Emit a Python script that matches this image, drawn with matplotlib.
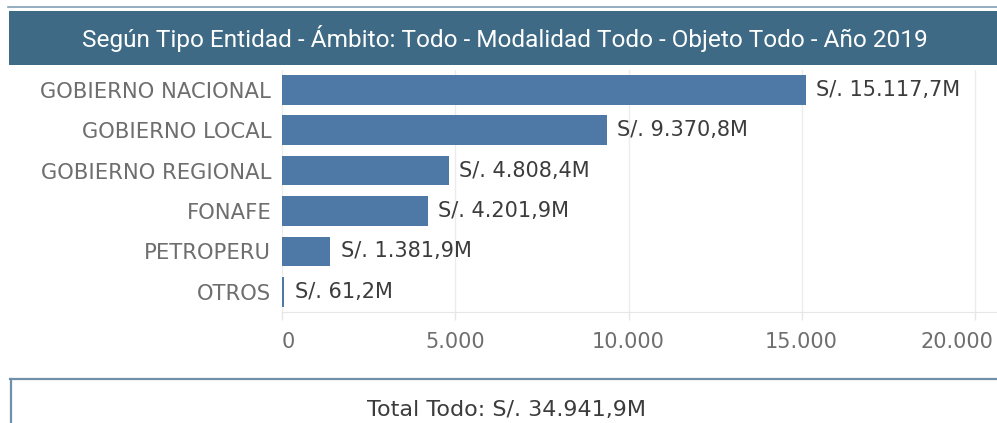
import matplotlib
matplotlib.use("Agg")
import matplotlib.pyplot as plt
import matplotlib.transforms as mtransforms
from matplotlib import font_manager
from matplotlib.patches import Rectangle
from matplotlib.lines import Line2D

# datos (millones de soles)
categorias = ["GOBIERNO NACIONAL", "GOBIERNO LOCAL", "GOBIERNO REGIONAL",
              "FONAFE", "PETROPERU", "OTROS"]
montos = [15117.7, 9370.8, 4808.4, 4201.9, 1381.9, 61.2]
etiquetas = ["S/. 15.117,7M", "S/. 9.370,8M", "S/. 4.808,4M",
             "S/. 4.201,9M", "S/. 1.381,9M", "S/. 61,2M"]
ticks = [0, 5000, 10000, 15000, 20000]
tick_labels = ["0", "5.000", "10.000", "15.000", "20.000"]
titulo = "Según Tipo Entidad - Ámbito: Todo - Modalidad Todo - Objeto Todo - Año 2019"
total = "Total Todo: S/. 34.941,9M"

instaladas = {f.name for f in font_manager.fontManager.ttflist}
fuente = "DejaVu Sans"
fuente_tit = "Open Sans"
for f in ["Fira Sans Semi Condensed", "Roboto", "Fira Sans Condensed"]:
    if f in instaladas:
        fuente_tit = f
        break

W, H = 997, 423
fig = plt.figure(figsize=(W / 100, H / 100), dpi=100)
fig.patch.set_facecolor("white")

# barra del titulo
fig.add_artist(Line2D([8 / W, 1], [1 - 7 / H, 1 - 7 / H], color="#7f9fb5", lw=1.2))
fig.add_artist(Rectangle((9 / W, 1 - 65 / H), 1, 54 / H, color="#3e6a85", lw=0))
t = fig.text(505 / W, 1 - 39 / H, titulo, color="white", ha="center", va="center",
             fontsize=16, family=fuente_tit)
# ajustar el tamaño al ancho del original (~905 px)
r = fig.canvas.get_renderer()
ancho = t.get_window_extent(r).width
t.set_fontsize(min(16 * 905 / ancho, 17.6))

ax = fig.add_axes([282.3 / W, 1 - 312 / H, 1 - 282.3 / W, 242.4 / H])
y = list(range(len(categorias)))[::-1]
ax.barh(y, montos, height=0.73, color="#4e79a7", zorder=3)
for yi, m, lab in zip(y, montos, etiquetas):
    ax.annotate(lab, (m, yi), xytext=(7.5, 0), textcoords="offset points",
                va="center", ha="left", fontsize=15, color="#3c3c3c", family=fuente)

ax.set_xlim(0, 20644)
ax.set_ylim(-0.5, len(categorias) - 0.5)
ax.set_yticks(y)
ax.set_yticklabels(categorias, fontsize=15.2, color="#6e6e6e", family=fuente)
ax.tick_params(axis="y", length=0, pad=8)
ax.set_xticks(ticks)
ax.set_xticklabels(tick_labels, fontsize=15, color="#6e6e6e", family=fuente)
ax.tick_params(axis="x", length=5.5, color="#e6e6e6", width=1, pad=9)
ax.grid(axis="x", color="#ececec", lw=1, zorder=0)
for s in ["top", "right", "left"]:
    ax.spines[s].set_visible(False)
ax.spines["bottom"].set_color("#e6e6e6")

xl = ax.get_xticklabels()
xl[0].set_transform(xl[0].get_transform() + mtransforms.ScaledTranslation(6 / 100, 0, fig.dpi_scale_trans))
xl[-1].set_transform(xl[-1].get_transform() + mtransforms.ScaledTranslation(-18 / 100, 0, fig.dpi_scale_trans))

# recuadro del total
fig.add_artist(Line2D([10 / W, 1], [1 - 379 / H, 1 - 379 / H], color="#6f90a8", lw=1.6))
fig.add_artist(Line2D([10.5 / W, 10.5 / W], [0, 1 - 379 / H], color="#6f90a8", lw=1.6))
fig.text(506 / W, 1 - 410 / H, total, color="#3c3c3c", ha="center", va="center",
         fontsize=16, family=fuente)

fig.savefig("out.png", dpi=100)
